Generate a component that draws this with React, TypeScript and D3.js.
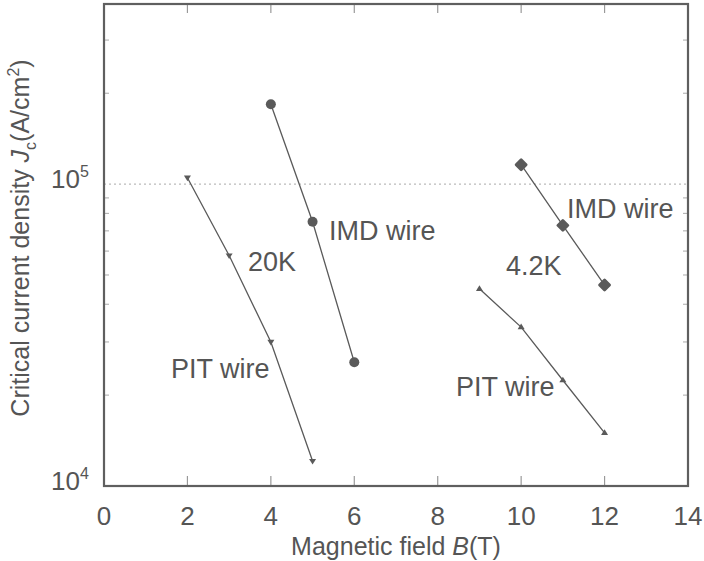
import React from "react";
import * as d3 from "d3";

const xTicks = [0, 2, 4, 6, 8, 10, 12, 14];
const pit20B = [2, 3, 4, 5];
const pit20J = [1.05e5, 5.8e4, 3.0e4, 1.21e4];
const imd20B = [4, 5, 6];
const imd20J = [1.84e5, 7.5e4, 2.57e4];
const imd42B = [10, 11, 12];
const imd42J = [1.16e5, 7.3e4, 4.63e4];
const pit42B = [9, 10, 11, 12];
const pit42J = [4.5e4, 3.36e4, 2.24e4, 1.5e4];
const minorTicks = [2e4, 3e4, 4e4, 5e4, 6e4, 7e4, 8e4, 9e4, 2e5, 3e5];

const W = 704, H = 561;
const L = 104, R = 688, T = 4, B = 486;
const col = "#5a5a5a";
const font = "'Liberation Sans', Arial, sans-serif";

export default function App() {
  const x = d3.scaleLinear().domain([0, 14]).range([L, R]);
  const y = d3.scaleLog().domain([1e4, 3.95e5]).range([B, T]);
  const line = d3.line<[number, number]>().x(d => x(d[0])).y(d => y(d[1]));
  const zip = (a: number[], b: number[]) => a.map((v, i) => [v, b[i]] as [number, number]);
  const tri = (px: number, py: number, down: boolean, s = 3.5) =>
    down
      ? `M${px - s},${py - s * 0.6}L${px + s},${py - s * 0.6}L${px},${py + s}Z`
      : `M${px - s},${py + s * 0.6}L${px + s},${py + s * 0.6}L${px},${py - s}Z`;

  return (
    <svg width={W} height={H} style={{ display: "block", position: "absolute", left: 0, top: 0, background: "#fff" }}>
      <line x1={L} x2={R} y1={y(1e5)} y2={y(1e5)} stroke="#bbb" strokeWidth={1.2} strokeDasharray="2,3" />
      {xTicks.slice(1, -1).map(t => (
        <g key={t}>
          <line x1={x(t)} x2={x(t)} y1={B} y2={B - 10} stroke="#999" strokeWidth={1.2} />
          <line x1={x(t)} x2={x(t)} y1={T} y2={T + 9} stroke="#999" strokeWidth={1.2} />
        </g>
      ))}
      {minorTicks.map(t => (
        <g key={t}>
          <line x1={L} x2={L + 5} y1={y(t)} y2={y(t)} stroke="#aaa" strokeWidth={1} />
          <line x1={R} x2={R - 5} y1={y(t)} y2={y(t)} stroke="#aaa" strokeWidth={1} />
        </g>
      ))}
      <rect x={L} y={T} width={R - L} height={B - T} fill="none" stroke="#5f5f5f" strokeWidth={2.2} />
      {[zip(pit20B, pit20J), zip(imd20B, imd20J), zip(imd42B, imd42J), zip(pit42B, pit42J)].map((d, i) => (
        <path key={i} d={line(d) as string} fill="none" stroke={col} strokeWidth={1.3} />
      ))}
      {zip(pit20B, pit20J).map((d, i) => (
        <path key={"a" + i} d={tri(x(d[0]), y(d[1]), true)} fill={col} />
      ))}
      {zip(pit42B, pit42J).map((d, i) => (
        <path key={"b" + i} d={tri(x(d[0]), y(d[1]), false)} fill={col} />
      ))}
      {zip(imd20B, imd20J).map((d, i) => (
        <circle key={"c" + i} cx={x(d[0])} cy={y(d[1])} r={5} fill={col} />
      ))}
      {zip(imd42B, imd42J).map((d, i) => (
        <path key={"d" + i} transform={`translate(${x(d[0])},${y(d[1])}) rotate(45)`}
          d={d3.symbol().type(d3.symbolSquare).size(50)() as string} fill={col}
          stroke={col} strokeWidth={2.8} strokeLinejoin="round" />
      ))}
      <g fontFamily={font} fontSize={27} fill="#555">
        <text x={329} y={240}>IMD wire</text>
        <text x={248} y={271}>20K</text>
        <text x={171} y={378}>PIT wire</text>
        <text x={567} y={218}>IMD wire</text>
        <text x={506} y={275}>4.2K</text>
        <text x={456} y={396}>PIT wire</text>
      </g>
      <g fontFamily={font} fontSize={26} fill="#555">
        {xTicks.map(t => (
          <text key={t} x={x(t)} y={525} textAnchor="middle">{t}</text>
        ))}
        <text x={51} y={y(1e4) + 4}>10<tspan dy={-11} fontSize={16}>4</tspan></text>
        <text x={51} y={y(1e5) + 4}>10<tspan dy={-11} fontSize={16}>5</tspan></text>
      </g>
      <g fontFamily={font} fill="#555">
        <text x={396} y={555} textAnchor="middle" fontSize={25}>Magnetic field <tspan fontStyle="italic">B</tspan>(T)</text>
        <text transform="translate(29,238) rotate(-90)" textAnchor="middle" fontSize={25}>
          Critical current density <tspan fontStyle="italic">J</tspan><tspan dy={7} fontSize={16}>c</tspan><tspan dy={-7}>(A/cm</tspan><tspan dy={-10} fontSize={16}>2</tspan><tspan dy={10}>)</tspan>
        </text>
      </g>
    </svg>
  );
}
